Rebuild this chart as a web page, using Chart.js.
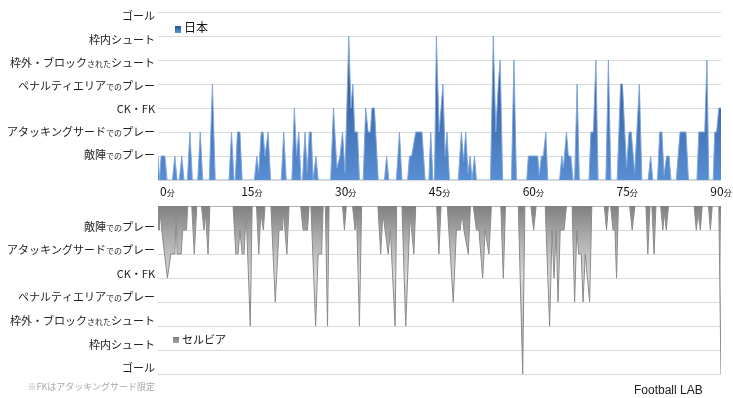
<!DOCTYPE html>
<html>
<head>
<meta charset="utf-8">
<script src="https://cdn.jsdelivr.net/npm/chart.js@4.4.1/dist/chart.umd.min.js"></script>
<style>
  html,body{margin:0;padding:0;background:#fff;}
  body{width:733px;height:398px;position:relative;overflow:hidden;font-family:"Noto Sans CJK JP","Noto Sans",sans-serif;}
  #c1{position:absolute;left:0;top:0;}
  #c2{position:absolute;left:0;top:200px;}
  #note{position:absolute;right:578px;top:381px;font-size:9px;line-height:12px;color:#a8a8a8;white-space:nowrap;}
  #brand{position:absolute;left:634px;top:382px;font-family:"Liberation Sans",Arial,sans-serif;font-size:12px;line-height:16px;color:#222;white-space:nowrap;}
</style>
</head>
<body>
<canvas id="c1" width="733" height="200"></canvas>
<canvas id="c2" width="733" height="198"></canvas>
<div id="note">※FKはアタッキングサード限定</div>
<div id="brand">Football LAB</div>
<script>
// ---- data (minutes, level) ----
const yLabels = ['敵陣でのプレー','アタッキングサードでのプレー','CK・FK','ペナルティエリアでのプレー','枠外・ブロックされたシュート','枠内シュート','ゴール'];
const xTicks = [0,15,30,45,60,75,90];
const xUnit = '分';
const seriesNames = ['日本','セルビア'];

const japanTimes = [0,0.25,0.5,1.1,1.45, 2.3,2.7,3.05, 3.4,3.8,4.15, 4.7,5.1,5.5, 6.35,6.75,7.15, 8.2,8.7,9.15,
  11.35,11.75,12.15, 12.35,12.7,13.1,13.45, 15.4,15.8,16.1,16.5,16.8,17.1,17.6,18.0,
  19.7,20.1,20.5, 21.4,21.8,22.15,22.5,22.85, 23.1,23.5,23.85,24.2,24.5,24.8,25.25,25.6,
  27.6,28.05,28.6,29.1,29.5,29.9,30.5,30.85,31.15,31.45,31.9,32.2,
  32.8,33.2,33.6,33.95,34.2,34.6,35.2, 36.2,36.55,36.9, 38.1,38.6,39.0,
  39.9,40.2,40.55,41.2,42.2,42.7, 43.3,43.6,43.95, 44.2,44.5,44.95,45.55,45.9,46.2,46.6,
  48.0,48.5,48.85,49.2,49.55,49.9,50.2,50.6,50.9,
  53.15,53.6,54.0,54.4,54.7,55.1, 56.5,56.9,57.3,
  58.95,59.2,60.7,60.95,61.3,61.6,62.0,62.3,
  64.2,64.55,64.8,65.3,65.6,66.0,66.35, 66.6,67.0,67.35,
  68.9,69.2,69.6,70.0,70.35, 71.6,72.0,72.4,
  73.4,73.95,74.25,74.9,75.3,75.65,76.2,76.95,77.35, 78.35,78.75,79.1,
  79.85,80.2,80.55,80.9,81.3,81.7,82.0, 82.85,83.45,84.4,84.8,
  86.15,86.45,87.4,87.75,88.05, 88.75,89.0,89.3,89.65,90];
const japanLevels = [1,0,1,1,0, 0,1,0, 0,1,0, 0,2,0, 0,2,0, 0,4,0,
  0,2,0, 0,2,2,0, 0,1,0.3,2,2,1,2,0,
  0,2,0, 0,3,1,2,0, 0,2,0.3,2,2,0,1,0,
  0,3,0.5,1,2,0.3,6,3,4,2,2,0,
  0,3,2,2,3,3,0, 0,1,0, 0,2,0,
  0,1,1,2,2,0, 0,2,0, 0,6,2,4,1,2,0,
  0,2,0.8,2,0.3,1,0,1,0,
  0,6,2,4,5,0, 0,5,0,
  0,1,1,0.2,1,1,2,0,
  0,1,0.5,2,1,1,0, 0,4,0,
  0,2,2,5,0, 0,5,0,
  0,4,4,0.5,2,2,0.3,4,0, 0,1,0,
  0,2,2,0.2,1,1,0, 0,2,2,0,
  0,2,2,5,0, 0,2,2,3,3];

const serbiaTimes = [0,0.15,0.35,0.6,1.5,2.05,2.7,2.9,3.05,3.7,3.95,4.55,4.75,
  5.4,5.8,6.2, 6.95,7.35,7.6,8.0,8.3,
  12.0,12.45,12.8,13.1,13.45,13.75,14.1,14.75,15.05,
  15.75,16.1,16.45,16.85,17.1,
  18.05,18.75,19.35,19.9,20.05,20.6,20.95,
  22.8,23.2,23.9,24.15,
  24.45,25.2,25.6,26.15,26.4,26.75,27.1,27.35,
  29.5,29.8,30.1, 31.1,31.5,31.75,32.2,32.55,
  35.15,35.6,35.95,36.3,36.8,37.15,37.9,38.15,
  39.0,39.6,40.2,40.35,40.9,41.2,
  44.55,44.9,45.25, 46.25,47.2,47.7,48.3,48.6,48.9,49.6,49.95,
  50.4,50.9,51.3,51.9,52.3,52.9,53.3,
  54.8,55.2,55.55, 57.6,58.3,58.65, 59.6,60.05,60.45,
  61.9,62.6,63.0,63.3,63.65,63.95,64.3,64.9,65.3,
  66.2,66.6,66.95,67.25,67.65,67.95,68.3,69.0,69.35,
  71.35,71.7,72.0, 72.35,72.75,73.05,73.3,73.6,
  75.4,75.8,76.25, 78.0,78.3,78.65,78.95,79.3,79.6,
  80.35,80.7,80.95,81.25,81.6, 85.7,86.05,86.35,86.7,87.0,
  88.0,88.3,88.6, 89.65,89.8,90];
const serbiaLevels = [0.5,1,0.3,1,3,2,2,0.3,2,2,1,1,0,
  0,2,0, 0,1,0.3,2,0,
  0,2,2,1,2,2,0.3,5,0,
  0,2,0.3,1,0,
  0,4,1,1,0.2,2,0,
  0,1,1,0,
  0,5,2,2,0,0,5,0,
  0,1,0, 0,1,0.4,5,0,
  0,2,0.3,1,2,1,5,0,
  0,5,1,0.5,2,0,
  0,2,0, 0,4,1,1,0.3,1,2,0,
  0,1,1,3,1,2,0,
  0,3,0, 0,7,0, 0,1,0,
  0,5,1,3,1,4,1,1,0,
  0,4,1,2,2,4,2,4,0,
  0,1,0, 0,1,1,3,0,
  0,1,0, 0,2,0,0,2,0,
  0,1,0.3,1,0, 0,1,0.3,1,0,
  0,1,0, 0,3,7];

// ---- helpers ----
const FONT = '"Noto Sans CJK JP","Noto Sans",sans-serif';
function pts(ts, vs){ return ts.map((t,i)=>({x:t, y:vs[i]})); }

function drawMixed(ctx, text, xRight, baseY, bigSize, smallSize, color){
  const parts = text.split(/(での|された)/).filter(s=>s.length);
  const specs = parts.map(p=>{
    const sz = (p==='での'||p==='された') ? smallSize : bigSize;
    ctx.font = sz + 'px ' + FONT;
    return {p, sz, w: ctx.measureText(p).width};
  });
  const total = specs.reduce((a,s)=>a+s.w,0);
  let x = xRight - total;
  ctx.fillStyle = color;
  ctx.textBaseline = 'alphabetic';
  ctx.textAlign = 'left';
  specs.forEach(s=>{ ctx.font = s.sz + 'px ' + FONT; ctx.fillText(s.p, x, baseY); x += s.w; });
}

function gradStops(chart, stops){
  const a = chart.chartArea; if(!a) return null;
  const y = chart.scales.y;
  const g = chart.ctx.createLinearGradient(0, y.getPixelForValue(0), 0, y.getPixelForValue(7));
  stops.forEach(s=>g.addColorStop(s[0], s[1]));
  return g;
}

const labelPlugin = {
  id:'labels',
  afterDraw(chart, args, opts){
    const ctx = chart.ctx; const y = chart.scales.y; const x = chart.scales.x;
    ctx.save();
    yLabels.forEach((lab,i)=>{
      const v = i+1;
      const gy = y.getPixelForValue(v);
      const center = opts.top ? gy + (v-1)*0.9 - 1 : gy - 3.5 - (v-1)*0.4;
      drawMixed(ctx, lab, 155, center + 4, 11, 8, '#222');
    });
    if (opts.top){
      xTicks.forEach(t=>{
        const num = String(t);
        ctx.font = '12px ' + FONT; const w1 = ctx.measureText(num).width;
        ctx.font = '8px ' + FONT; const w2 = ctx.measureText(xUnit).width;
        let sx = x.getPixelForValue(t) - (w1+w2)/2;
        if (sx < 160) sx = 160;
        ctx.fillStyle = '#111'; ctx.textBaseline='alphabetic'; ctx.textAlign='left';
        ctx.font = '12px ' + FONT; ctx.fillText(num, sx, 196);
        ctx.font = '8px ' + FONT; ctx.fillText(xUnit, sx + w1, 196);
      });
    }
    // legend
    const ds = chart.data.datasets[0];
    const L = opts.legend;
    const sq = ctx.createLinearGradient(0, L.y, 0, L.y + L.h);
    sq.addColorStop(0, L.c1); sq.addColorStop(1, L.c2);
    ctx.fillStyle = sq; ctx.fillRect(L.x, L.y, 6, L.h);
    ctx.fillStyle = '#111'; ctx.font = L.size + 'px ' + FONT; ctx.textAlign='left'; ctx.textBaseline='alphabetic';
    ctx.fillText(ds.label, L.x + 9, L.base);
    ctx.restore();
  }
};

function axisFit(w){ return function(scale){ scale.width = w; }; }

// ---- top chart: Japan ----
new Chart(document.getElementById('c1'), {
  type:'line',
  data:{ datasets:[{
    label: seriesNames[0],
    data: pts(japanTimes, japanLevels),
    borderColor:'rgba(125,165,220,0.95)', borderWidth:1,
    backgroundColor: (c)=>gradStops(c.chart, [[0,'rgb(88,142,212)'],[0.3,'rgb(70,118,185)'],[0.55,'rgb(58,98,160)'],[0.75,'rgb(72,112,175)'],[1,'rgb(150,178,218)']]),
    fill:'origin', tension:0, pointRadius:0
  }]},
  options:{
    responsive:false, animation:false, devicePixelRatio:1,
    layout:{padding:{top:12,right:12,left:0,bottom:0}},
    plugins:{legend:{display:false}, tooltip:{enabled:false},
      labels:{top:true, legend:{x:175,y:26,h:7,c1:'#1f5396',c2:'#5d92d8',size:12,base:32}}},
    scales:{
      x:{type:'linear',min:0,max:90, ticks:{display:false,stepSize:15}, grid:{display:false}, border:{display:false},
         afterFit:(s)=>{ s.height = 20; }},
      y:{min:0,max:7, ticks:{display:false,stepSize:1}, grid:{color:'#d9d9d9',drawTicks:false}, border:{display:false},
         afterFit:axisFit(158)}
    }
  },
  plugins:[labelPlugin]
});

// ---- bottom chart: Serbia ----
new Chart(document.getElementById('c2'), {
  type:'line',
  data:{ datasets:[{
    label: seriesNames[1],
    data: pts(serbiaTimes, serbiaLevels),
    borderColor:'#8a8a8a', borderWidth:1,
    backgroundColor: (c)=>gradStops(c.chart, [[0,'rgb(128,128,128)'],[0.2,'rgb(175,175,175)'],[0.42,'rgb(218,218,218)'],[0.7,'rgb(200,200,200)'],[1,'rgb(150,150,150)']]),
    fill:'origin', tension:0, pointRadius:0
  }]},
  options:{
    responsive:false, animation:false, devicePixelRatio:1,
    layout:{padding:{top:6,right:12,left:0,bottom:24}},
    plugins:{legend:{display:false}, tooltip:{enabled:false},
      labels:{top:false, legend:{x:173,y:137,h:6,c1:'#7a7a7a',c2:'#a5a5a5',size:11,base:144}}},
    scales:{
      x:{type:'linear',min:0,max:90, display:false},
      y:{min:0,max:7,reverse:true, ticks:{display:false,stepSize:1}, grid:{color:'#d9d9d9',drawTicks:false}, border:{display:false},
         afterFit:axisFit(158)}
    }
  },
  plugins:[labelPlugin]
});
</script>
</body>
</html>
